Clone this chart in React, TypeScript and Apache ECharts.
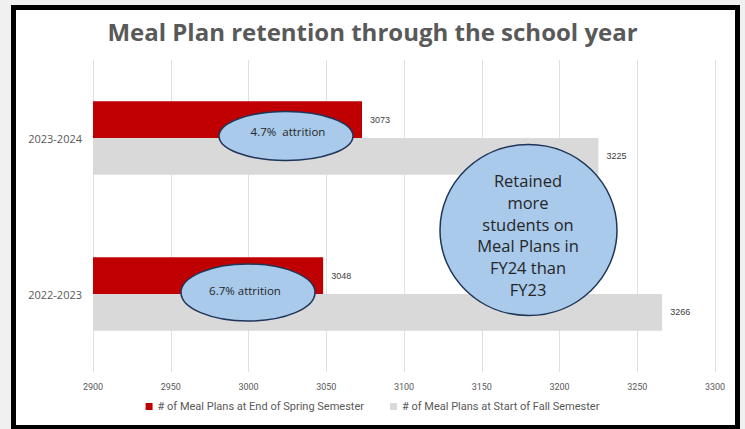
import React, { useEffect, useRef } from "react";
import * as echarts from "echarts";

const categories = ["2022-2023", "2023-2024"];
const springEnd = [3048, 3073];
const fallStart = [3266, 3225];
const seriesNames = [
  "# of Meal Plans at End of Spring Semester",
  "# of Meal Plans at Start of Fall Semester",
];
const xMin = 2900;
const xMax = 3300;
const xStep = 50;
const titleText = "Meal Plan retention through the school year";
const note2324 = "4.7%  attrition";
const note2223 = "6.7% attrition";
const bigNote = "Retained\nmore\nstudents on\nMeal Plans in\nFY24 than\nFY23";

export default function App() {
  const ref = useRef<HTMLDivElement>(null);
  useEffect(() => {
    document.body.style.margin = "0";
    const chart = echarts.init(ref.current!, null, { renderer: "svg" });
    const bubbleFill = "#a9caeb";
    const bubbleStroke = "#1f3557";
    const bubbleFont = "'Open Sans', 'DejaVu Sans', sans-serif";
    const valueLabel = {
      show: true,
      position: "right",
      distance: 8,
      fontSize: 9,
      color: "#404040",
      fontFamily: "'Liberation Sans', sans-serif",
    };
    chart.setOption({
      animation: false,
      backgroundColor: "#f0f0f0",
      title: {
        text: titleText,
        left: "center",
        top: 14,
        textStyle: {
          fontFamily: "'Open Sans', sans-serif",
          fontWeight: "bold",
          fontSize: 24,
          color: "#595959",
        },
      },
      grid: { left: 93, right: 30, top: 60, bottom: 57 },
      xAxis: {
        type: "value",
        min: xMin,
        max: xMax,
        interval: xStep,
        axisLine: { show: false },
        axisTick: { show: false },
        splitLine: { lineStyle: { color: "#e0e0e0", width: 1 } },
        axisLabel: {
          color: "#595959",
          fontSize: 9,
          margin: 10,
          formatter: (v: number) => String(v),
          fontFamily: "'Roboto', sans-serif",
        },
      },
      yAxis: {
        type: "category",
        data: categories,
        axisLine: { show: false },
        axisTick: { show: false },
        axisLabel: {
          color: "#595959",
          fontSize: 11,
          margin: 11,
          fontFamily: "'Open Sans', sans-serif",
        },
      },
      legend: {
        data: seriesNames,
        bottom: 12,
        left: "center",
        itemWidth: 7,
        itemHeight: 7,
        itemGap: 26,
        icon: "rect",
        textStyle: {
          color: "#595959",
          fontSize: 11,
          fontFamily: "'Roboto', sans-serif",
        },
      },
      series: [
        {
          name: seriesNames[0],
          type: "bar",
          data: springEnd,
          barGap: "0%",
          barCategoryGap: "53%",
          itemStyle: { color: "#c00000" },
          label: valueLabel,
        },
        {
          name: seriesNames[1],
          type: "bar",
          data: fallStart,
          barGap: "0%",
          barCategoryGap: "53%",
          itemStyle: { color: "#d9d9d9" },
          label: valueLabel,
        },
      ],
      graphic: [
        {
          type: "rect",
          shape: { x: 13.5, y: 7.5, width: 724, height: 420 },
          style: { fill: "none", stroke: "#000", lineWidth: 5 },
          z: 100,
          silent: true,
        },
        {
          type: "rect",
          shape: { x: 16, y: 10, width: 719.5, height: 415 },
          style: { fill: "#ffffff" },
          z: -10,
          silent: true,
        },
        {
          type: "ellipse",
          shape: { cx: 286, cy: 136, rx: 67, ry: 24.5 },
          style: { fill: bubbleFill, stroke: bubbleStroke, lineWidth: 1.5 },
          z: 50,
        },
        {
          type: "text",
          x: 288,
          y: 131,
          z: 51,
          style: {
            text: note2324,
            fill: "#262626",
            font: `11.5px ${bubbleFont}`,
            align: "center",
            verticalAlign: "middle",
          },
        },
        {
          type: "ellipse",
          shape: { cx: 248, cy: 292.5, rx: 67, ry: 28.5 },
          style: { fill: bubbleFill, stroke: bubbleStroke, lineWidth: 1.5 },
          z: 50,
        },
        {
          type: "text",
          x: 245,
          y: 290,
          z: 51,
          style: {
            text: note2223,
            fill: "#262626",
            font: `11.5px ${bubbleFont}`,
            align: "center",
            verticalAlign: "middle",
          },
        },
        {
          type: "ellipse",
          shape: { cx: 528.5, cy: 230, rx: 88.5, ry: 85.5 },
          style: { fill: bubbleFill, stroke: bubbleStroke, lineWidth: 1.5 },
          z: 50,
        },
        {
          type: "text",
          x: 528,
          y: 235,
          z: 51,
          style: {
            text: bigNote,
            fill: "#262626",
            font: `16.5px ${bubbleFont}`,
            lineHeight: 21.7,
            align: "center",
            verticalAlign: "middle",
          },
        },
      ],
    });
    return () => chart.dispose();
  }, []);
  return <div ref={ref} style={{ width: 745, height: 429 }} />;
}
